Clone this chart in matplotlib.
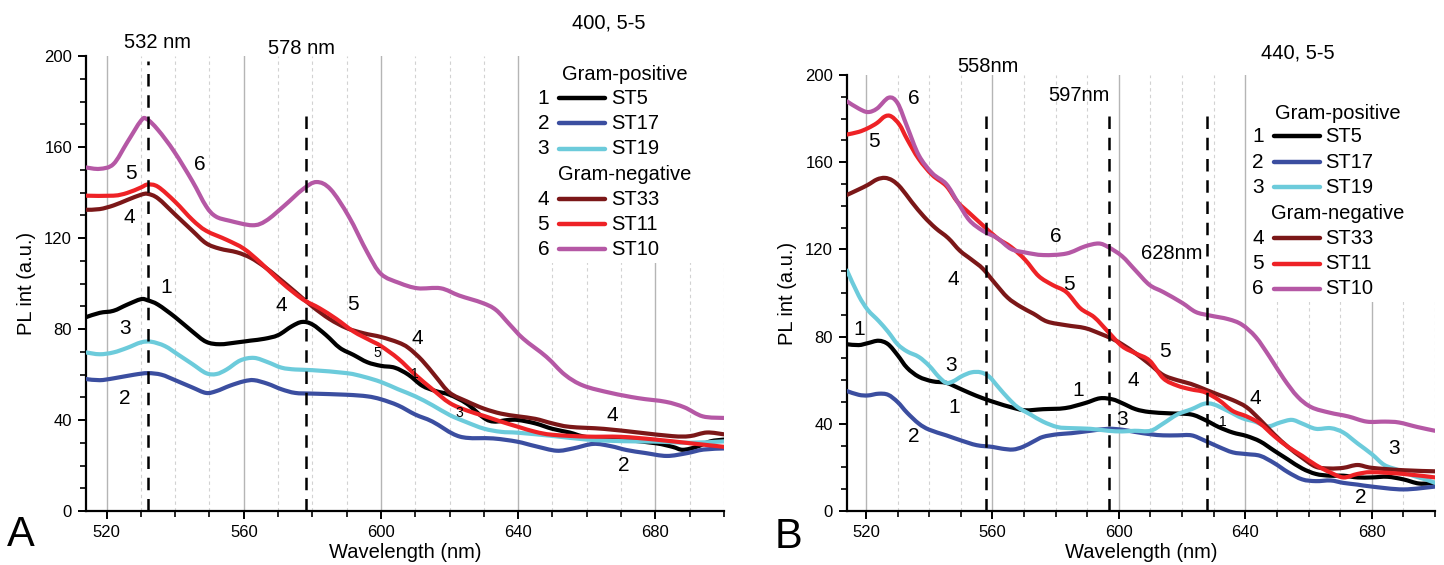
import matplotlib
matplotlib.use("Agg")
import matplotlib.pyplot as plt
from matplotlib.ticker import MultipleLocator
from matplotlib.patches import Rectangle, PathPatch
from matplotlib.path import Path
import numpy as np

plt.rcParams['font.family'] = ['Liberation Sans', 'DejaVu Sans']

# ---------------- Panel A data (excitation 400) ----------------
a6_x = [514, 518, 522, 526, 530, 531.7, 535, 539.7, 545, 549, 551.8, 555.8, 562.5, 566.5, 571.9, 577.2, 581.2, 585.3, 590.6, 596, 600, 605.4, 610.7, 617.4, 622.8, 629.5, 633.5, 637.5, 641.5, 648.2, 653.6, 659, 667, 675, 683, 688.4, 693.8, 700]
a6_y = [151, 150.4, 152.5, 162, 171.5, 172.3, 167.5, 158, 145, 134, 129.5, 127.6, 125.6, 127.6, 134.3, 141.4, 144.6, 141.4, 129.5, 113.7, 104.2, 100.2, 97.9, 97.9, 94.7, 91.5, 88.4, 82, 75.7, 67.8, 59.9, 55.1, 51.9, 49.6, 48, 45.6, 41.6, 40.9]

a5_x = [514, 522, 526, 530, 532, 535, 540, 545, 549, 555, 560, 565, 570, 575, 578, 582, 587, 592, 597, 600, 605, 610, 615, 620, 625, 630, 635, 640, 645, 650, 660, 670, 680, 690, 700]
a5_y = [138.6, 138.6, 139.8, 142.2, 143.5, 142.5, 135.9, 128, 123.2, 119.2, 115.3, 109, 101.8, 95.5, 92.3, 89.2, 84.4, 78.9, 74.9, 72.5, 67, 59.9, 53.5, 47.5, 44.2, 41.8, 39.3, 37, 34.8, 33.5, 32.7, 32.6, 31.4, 29.8, 28.2]

a4_x = [514, 518, 522, 526, 530, 532, 535, 540, 545, 549, 553, 558, 562, 566, 570, 575, 580, 585, 590, 595, 600, 605, 608, 612, 616, 620, 625, 630, 635, 640, 645, 650, 655, 665, 675, 685, 690, 695, 700]
a4_y = [132.4, 132.7, 134.3, 136.7, 139, 139.4, 137.4, 130.3, 123.2, 117.7, 115.3, 113.7, 111.3, 107.4, 102.6, 96.3, 89.9, 84.4, 80.4, 78.1, 76.5, 74.1, 71.7, 66.2, 59, 52, 48.2, 45, 42.8, 41.6, 40.5, 38.5, 37, 36.1, 34.5, 32.9, 32.9, 34.5, 33.7]

a1_x = [514, 518, 522, 526, 530, 532, 535, 540, 545, 549, 553, 558, 562, 566, 570, 574, 577, 580, 584, 588, 592, 596, 600, 604, 608, 612, 616, 620, 625, 630, 633, 637, 640, 645, 650, 655, 660, 670, 680, 685, 688, 692, 696, 700]
a1_y = [85.2, 87.1, 88, 90.7, 93.1, 92.6, 90.7, 85.2, 78.9, 74.4, 73.3, 74.1, 74.9, 75.7, 77.3, 81.2, 83.1, 82, 77.3, 71.7, 68.6, 65.4, 63.8, 63, 59.9, 55.1, 52.7, 51.1, 47.2, 40.9, 39.3, 40, 40, 38.5, 36.1, 34.5, 32.5, 31.4, 29.8, 28.2, 26.9, 28.2, 30.6, 31.4]

a3_x = [514, 518, 522, 526, 530, 533, 537, 541, 545, 549, 552, 555, 559, 563, 567, 571, 575, 580, 590, 595, 600, 605, 610, 615, 620, 625, 630, 635, 640, 650, 660, 670, 680, 690, 700]
a3_y = [69.7, 68.9, 69.7, 71.7, 74.1, 74.4, 72.5, 68.6, 64.6, 60.6, 60.2, 62.2, 66.2, 67.3, 65.4, 63, 62.2, 61.9, 60.6, 59, 56.7, 53.5, 50.4, 46.5, 42.2, 39, 36.2, 34.8, 34.4, 33, 31.4, 30.7, 30.5, 30, 30.6]

a2_x = [514, 518, 522, 528, 532, 536, 540, 545, 549, 552, 556, 560, 563, 567, 571, 575, 580, 590, 596, 600, 605, 610, 615, 623, 632.7, 639.6, 645, 651.2, 656, 661.9, 667, 671.6, 677, 683.3, 689.1, 694, 700]
a2_y = [58, 57.5, 58.3, 59.9, 60.6, 59.9, 57.5, 54.3, 51.9, 52.7, 55.1, 57, 57.5, 55.9, 53.5, 51.9, 51.6, 51.1, 50.4, 49.1, 46.4, 42.4, 39.3, 32.7, 31.9, 30.5, 28.5, 26.5, 27.5, 29.5, 28.5, 26.8, 25.5, 24.2, 25.4, 27, 27.5]

# ---------------- Panel B data (excitation 440) ----------------
b6_x = [514, 517.7, 520.6, 523.5, 527.2, 530, 533, 536.7, 541, 545.4, 549, 552.7, 557, 561.5, 565.9, 570.3, 576.1, 583.4, 589.3, 593.6, 596.6, 601, 605.3, 609.7, 614.1, 620, 624.3, 628.7, 634.6, 638.9, 643.3, 647.7, 652.1, 656.5, 660.9, 666.7, 672.5, 678.4, 684.2, 688.6, 694.5, 700]
b6_y = [187.9, 184.6, 183, 184.6, 189.6, 187.1, 176.4, 163.2, 154.9, 150, 141.7, 133.4, 128.5, 125.2, 120.2, 118.6, 117.4, 118.1, 121.4, 122.7, 121.1, 116.9, 110.3, 103.7, 100.4, 95.5, 91.3, 89.7, 88, 85.5, 79.8, 70.7, 60.8, 52.5, 47.6, 45.1, 43.4, 41, 41, 40.6, 38.5, 36.8]

b5_x = [514, 517.7, 520.6, 523.5, 526, 528, 530.6, 533, 536.7, 541, 545.4, 549, 552.7, 557, 561.5, 565.9, 570.3, 574.6, 579, 583.4, 587.8, 592.2, 596.6, 601, 605.3, 609.7, 614.1, 618.5, 622.8, 627.2, 631.6, 636, 640.4, 644.7, 649.1, 653.5, 658, 662.3, 666.7, 671, 675.5, 680, 690, 700]
b5_y = [172.7, 173.9, 175.6, 178, 181, 181, 177.2, 170.6, 161.5, 154.1, 149.1, 141.7, 136.7, 131, 125.2, 121.1, 115.3, 107.8, 103.7, 100.4, 93, 88.9, 82.2, 75.6, 72.3, 69, 60.8, 57.5, 55.8, 54.5, 50.9, 45.9, 43.4, 40.1, 34.4, 29.4, 25.3, 21.1, 17.8, 15.4, 17, 17.8, 17, 15.4]

b4_x = [514, 517.7, 520.6, 523.5, 526, 528.4, 531, 534.5, 538.3, 542, 546, 549.7, 553.4, 557, 560.8, 564.8, 568.8, 573, 577.3, 583.4, 589.3, 594, 598, 601, 605.3, 609.7, 614, 618.5, 622.8, 627.2, 631.6, 636, 640.4, 644.7, 649.1, 653.5, 658, 662.3, 666.7, 671, 675.5, 680, 690, 700]
b4_y = [145, 147.5, 149.6, 152.1, 152.8, 151.6, 148.3, 141.7, 135.1, 129.8, 125.2, 119.4, 115.3, 111.1, 104.5, 97.9, 93.8, 90.5, 86.9, 85.2, 83.9, 81.4, 78.9, 76.5, 72.3, 67.4, 62.4, 60, 58.3, 55.8, 53.3, 50.9, 47.6, 41.8, 35.2, 29.4, 24.4, 20.3, 19.5, 19.8, 21.1, 19.8, 18.7, 18.2]

b1_x = [514, 517.7, 520.6, 524, 527, 530, 533, 536.7, 541, 545.4, 549, 552.7, 557, 561.5, 565.9, 570.3, 576, 583, 589.3, 594, 598, 601, 605.3, 609.7, 616, 622.8, 627.2, 631.6, 636, 640.4, 644.7, 649.1, 653.5, 658, 662.3, 666.7, 671, 675.5, 680, 685, 690, 695, 700]
b1_y = [76.5, 76.1, 77, 78.1, 76.5, 71.5, 65.7, 61.6, 59.5, 58.8, 56.6, 54.2, 51.7, 49.5, 47.6, 46.2, 46.7, 47.2, 49.5, 51.7, 51.2, 49.5, 46.7, 45.4, 44.8, 44.3, 41.8, 38.5, 36, 34.4, 31.9, 27.7, 23.6, 19.5, 17, 16.2, 16.2, 15.4, 15.4, 15.7, 14.5, 12.6, 12.9]

b3_x = [514, 517.7, 520.6, 524, 527, 530, 533, 536.7, 540, 543, 545.4, 547.6, 550.4, 553.4, 556.3, 559, 562, 565, 568, 572, 576, 580.6, 585, 591, 596.6, 601, 605, 610, 614, 618.5, 623, 627, 630, 634.5, 639, 643, 647, 651, 654.7, 658, 662.3, 667, 671, 675.5, 680, 684, 688.6, 693, 697, 700]
b3_y = [110.3, 98.8, 92.2, 87.2, 82.2, 76.5, 73.2, 70.7, 66.6, 61.6, 58.8, 59.5, 61.9, 63.6, 63.6, 61.6, 56.6, 51.7, 47.6, 44.3, 41, 38.5, 38, 37.7, 36.8, 36.5, 36.8, 36.8, 40.1, 44.3, 46.7, 49.2, 48.9, 45.9, 42.6, 41, 38.8, 40.6, 41.8, 40.1, 37.7, 38, 36, 31, 26.1, 21.1, 18.7, 16.2, 14.5, 12.9]

b2_x = [514, 517.7, 520.6, 524, 527, 530, 533, 536.7, 540, 545.4, 550, 555, 560, 563, 566.5, 569.6, 573, 576, 580.6, 585, 591, 596.6, 601, 605, 610, 614, 618.5, 623, 627, 631.6, 636, 640.4, 644.7, 649.1, 653.5, 658, 662.3, 667, 671, 675.5, 680, 690, 700]
b2_y = [55, 53.3, 53, 53.8, 53.3, 50, 45.1, 40.1, 37.3, 34.7, 32.4, 30.2, 29.4, 28.6, 28.2, 29.4, 31.9, 34, 35.2, 35.7, 36.8, 37.7, 37.3, 36.3, 35.2, 34.7, 34.7, 34.7, 32.4, 29.4, 26.9, 26.1, 25.3, 22, 17.8, 14.5, 13.7, 14, 12.9, 12.1, 11.2, 9.9, 11.2]

numbers = ['1', '2', '3', '4', '5', '6']
strains = ['ST5', 'ST17', 'ST19', 'ST33', 'ST11', 'ST10']
colors = ['#000000', '#3b4ea0', '#6ccbdb', '#7b1718', '#ee2226', '#b558a5']

A_series = [(a1_x, a1_y), (a2_x, a2_y), (a3_x, a3_y), (a4_x, a4_y), (a5_x, a5_y), (a6_x, a6_y)]
B_series = [(b1_x, b1_y), (b2_x, b2_y), (b3_x, b3_y), (b4_x, b4_y), (b5_x, b5_y), (b6_x, b6_y)]

# peak markers: wavelength, top value
A_marks = [532, 578]
A_marks_top = [198, 176]
A_mark_labels = [('532 nm', 534.7, 206), ('578 nm', 576.7, 203.5)]
B_marks = [558, 597, 628]
B_marks_top = [183, 182, 182]
B_mark_labels = [('558nm', 558.7, 204), ('597nm', 587.4, 190.6), ('628nm', 616.8, 117.9)]

# curve number annotations (label, x, y, small)
A_ann = [('6', 547.3, 152.2, False), ('5', 527, 148.5, False), ('4', 526.7, 129, False),
         ('1', 537.3, 98.3, False), ('3', 525.4, 80, False), ('2', 525.2, 49.6, False),
         ('4', 570.9, 90.3, False), ('5', 591.7, 90.7, False), ('4', 610.5, 75.7, False),
         ('5', 599, 69.4, True), ('1', 610, 60.3, True), ('3', 622.8, 43.2, True),
         ('4', 667.4, 42.1, False), ('2', 670.7, 20, False)]
B_ann = [('6', 535.2, 189.1, False), ('5', 522.5, 169.3, False), ('6', 580.2, 125.7, False),
         ('4', 547.6, 106.2, False), ('5', 584.1, 103.7, False), ('1', 517.8, 83.1, False),
         ('3', 546.9, 66.6, False), ('1', 548, 47.6, False), ('2', 535.2, 34.4, False),
         ('1', 587.1, 55.3, False), ('5', 614.5, 73.2, False), ('4', 604.6, 60, False),
         ('3', 601, 42.1, False), ('1', 632.8, 41, True), ('4', 643.3, 51.7, False),
         ('3', 686.9, 28.6, False), ('2', 676.6, 6.3, False)]

fig = plt.figure(figsize=(14.44, 5.65), dpi=100)


def smooth_path(x, y):
    """Catmull-Rom spline through the data points, rendered as cubic Bezier path."""
    P = np.column_stack([x, y]).astype(float)
    n = len(P)
    verts = [P[0]]
    codes = [Path.MOVETO]
    for i in range(n - 1):
        p0 = P[i - 1] if i > 0 else P[i]
        p1 = P[i]
        p2 = P[i + 1]
        p3 = P[i + 2] if i + 2 < n else P[i + 1]
        c1 = p1 + (p2 - p0) / 6.0
        c2 = p2 - (p3 - p1) / 6.0
        verts += [c1, c2, p2]
        codes += [Path.CURVE4] * 3
    return Path(np.array(verts), codes)


def setup_axes(rect):
    ax = fig.add_axes(rect)
    ax.set_xlim(514, 700)
    ax.set_ylim(0, 200)
    ax.xaxis.set_major_locator(MultipleLocator(40))
    ax.xaxis.set_minor_locator(MultipleLocator(10))
    ax.yaxis.set_major_locator(MultipleLocator(40))
    ax.yaxis.set_minor_locator(MultipleLocator(10))
    for s in ['top', 'right']:
        ax.spines[s].set_visible(False)
    for s in ['left', 'bottom']:
        ax.spines[s].set_linewidth(1.6)
    ax.tick_params(which='major', direction='out', length=6, width=1.4, labelsize=12, pad=4)
    ax.tick_params(which='minor', direction='out', length=4, width=1.2)
    ax.grid(which='major', axis='x', color='#b5b5b5', lw=1.0, zorder=0)
    ax.grid(which='minor', axis='x', color='#d2d2d2', lw=0.8, ls=(0, (3, 3)), zorder=0)
    ax.set_axisbelow(True)
    ax.set_xlabel('Wavelength (nm)', fontsize=14.5, labelpad=2)
    ax.set_ylabel('PL int (a.u.)', fontsize=14.5, labelpad=6)
    return ax


def legend_block(ax, box, header_x, num_x, line_x0, line_x1, text_x, ys):
    # white box hiding the grid behind the legend
    ax.add_patch(Rectangle((box[0], box[1]), 1.2 - box[0], 1.2 - box[1], transform=ax.transAxes,
                           facecolor='white', edgecolor='none', zorder=1, clip_on=False))
    headers = ['Gram-positive', None, None, None, 'Gram-negative', None, None, None]
    idx = 0
    for h, y in zip(headers, ys):
        if h is not None:
            ax.text(header_x, y, h, transform=ax.transAxes, fontsize=14.5,
                    ha='center', va='center', zorder=3)
        else:
            ax.text(num_x, y, numbers[idx], transform=ax.transAxes, fontsize=15,
                    ha='center', va='center', zorder=3)
            ax.plot([line_x0, line_x1], [y, y], transform=ax.transAxes,
                    color=colors[idx], lw=3.2, solid_capstyle='round', zorder=3)
            ax.text(text_x, y, strains[idx], transform=ax.transAxes, fontsize=14.5,
                    ha='left', va='center', zorder=3)
            idx += 1


def draw_panel(ax, series, marks, marks_top, mark_labels, ann):
    for (x, y), c in zip(series, colors):
        ax.add_patch(PathPatch(smooth_path(x, y), fill=False, edgecolor=c, lw=3,
                               capstyle='round', joinstyle='round', zorder=4))
    for m, t in zip(marks, marks_top):
        ax.plot([m, m], [0, t], color='black', lw=1.8, ls=(0, (5, 3.5)), zorder=5)
    for lab, x, y in mark_labels:
        ax.text(x, y, lab, fontsize=14.5, ha='center', va='center', zorder=6, clip_on=False)
    for lab, x, y, small in ann:
        ax.text(x, y, lab, fontsize=10 if small else 15, ha='center', va='center', zorder=6)


# Panel A
axA = setup_axes([86 / 1444, 54 / 565, 638 / 1444, 455 / 565])
draw_panel(axA, A_series, A_marks, A_marks_top, A_mark_labels, A_ann)
legend_block(axA, (0.707, 0.545), 0.845, 0.717, 0.742, 0.814, 0.823,
             [0.96, 0.9075, 0.852, 0.7965, 0.7385, 0.6855, 0.63, 0.575])
axA.text(666.5, 214.5, '400, 5-5', fontsize=14.5, ha='center', va='center', clip_on=False)
fig.text(21 / 1444, 1 - 535 / 565, 'A', fontsize=30, ha='center', va='center')

# Panel B
axB = setup_axes([847 / 1444, 54 / 565, 588 / 1444, 436 / 565])
draw_panel(axB, B_series, B_marks, B_marks_top, B_mark_labels, B_ann)
legend_block(axB, (0.688, 0.48), 0.835, 0.699, 0.726, 0.804, 0.813,
             [0.9125, 0.86, 0.80, 0.743, 0.6815, 0.626, 0.5675, 0.51])
axB.text(656.6, 210, '440, 5-5', fontsize=14.5, ha='center', va='center', clip_on=False)
fig.text(789 / 1444, 1 - 537 / 565, 'B', fontsize=30, ha='center', va='center')

fig.savefig('out.png', dpi=100)
